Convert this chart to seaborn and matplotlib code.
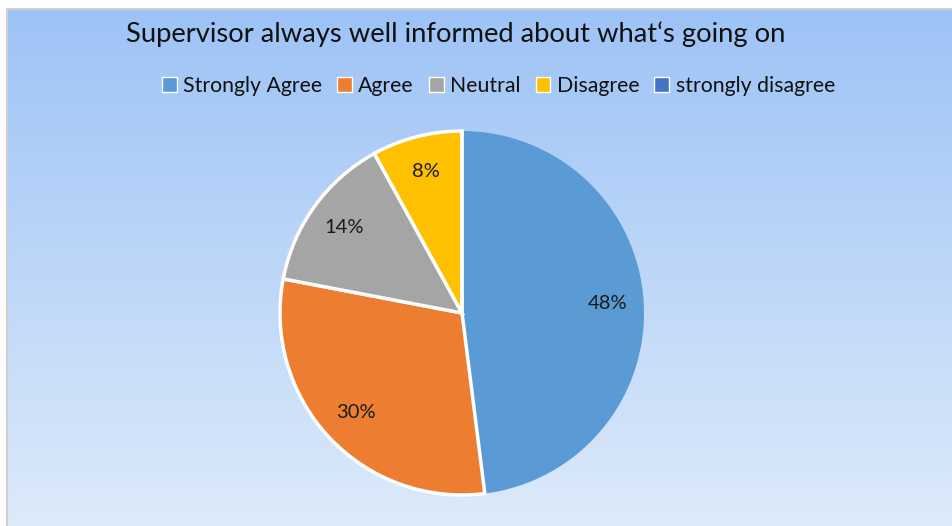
import numpy as np
import matplotlib
matplotlib.use("Agg")
import matplotlib.pyplot as plt
import matplotlib.patches as mpatches
import seaborn as sns

# ================================
# data
# ================================
labels = ["Strongly Agree", "Agree", "Neutral", "Disagree", "strongly disagree"]
shares = [48, 30, 14, 8, 0]
colors = ["#5B9BD5", "#ED7D31", "#A5A5A5", "#FFC000", "#4472C4"]
title = "Supervisor always well informed about what\u2018s going on"

sns.set_theme(style="white")
plt.rcParams["font.family"] = ["Lato", "DejaVu Sans"]

fig = plt.figure(figsize=(9.53, 5.26), dpi=100)
fig.patch.set_facecolor("white")

# gradient background of the chart area
bg = fig.add_axes([7 / 953, 0, 946 / 953, 517 / 526])
top = np.array([157, 195, 246]) / 255
bot = np.array([221, 234, 250]) / 255
t = np.linspace(0, 1, 256)[:, None]
grad = (top[None, :] * (1 - t) + bot[None, :] * t)[:, None, :]
bg.imshow(grad, aspect="auto", extent=[0, 1, 0, 1])
bg.set_xticks([])
bg.set_yticks([])
for s in ["left", "top"]:
    bg.spines[s].set_color("#D0D0D0")
    bg.spines[s].set_linewidth(1.5)
for s in ["right", "bottom"]:
    bg.spines[s].set_visible(False)

# pie
ax = fig.add_axes([280 / 953, 31 / 526, 364 / 953, 364 / 526])
ax.set_facecolor("none")
wedges, texts, autotexts = ax.pie(
    shares, colors=colors, startangle=90, counterclock=False,
    autopct=lambda p: f"{p:.0f}%" if p > 0 else "",
    pctdistance=0.8, radius=1,
    wedgeprops=dict(edgecolor="white", linewidth=2.5),
    textprops=dict(fontsize=14.5, color="#1a1a1a"))
wedges[0].set_linewidth(0)
ax.set_xlim(-1.0, 1.0)
ax.set_ylim(-1.0, 1.0)
ax.set_aspect("equal")
ax.axis("off")

fig.text(0.478, 0.936, title, ha="center", va="center", fontsize=19.7, color="#111111")

handles = [mpatches.Patch(facecolor=c, edgecolor="white", linewidth=1) for c in colors]
fig.legend(handles, labels, loc="center", bbox_to_anchor=(0.523, 0.837), ncol=5,
           frameon=False, fontsize=15.3, handlelength=0.7, handleheight=0.7,
           handletextpad=0.3, columnspacing=0.7, labelcolor="#111111")

fig.savefig("out.png", dpi=100)
